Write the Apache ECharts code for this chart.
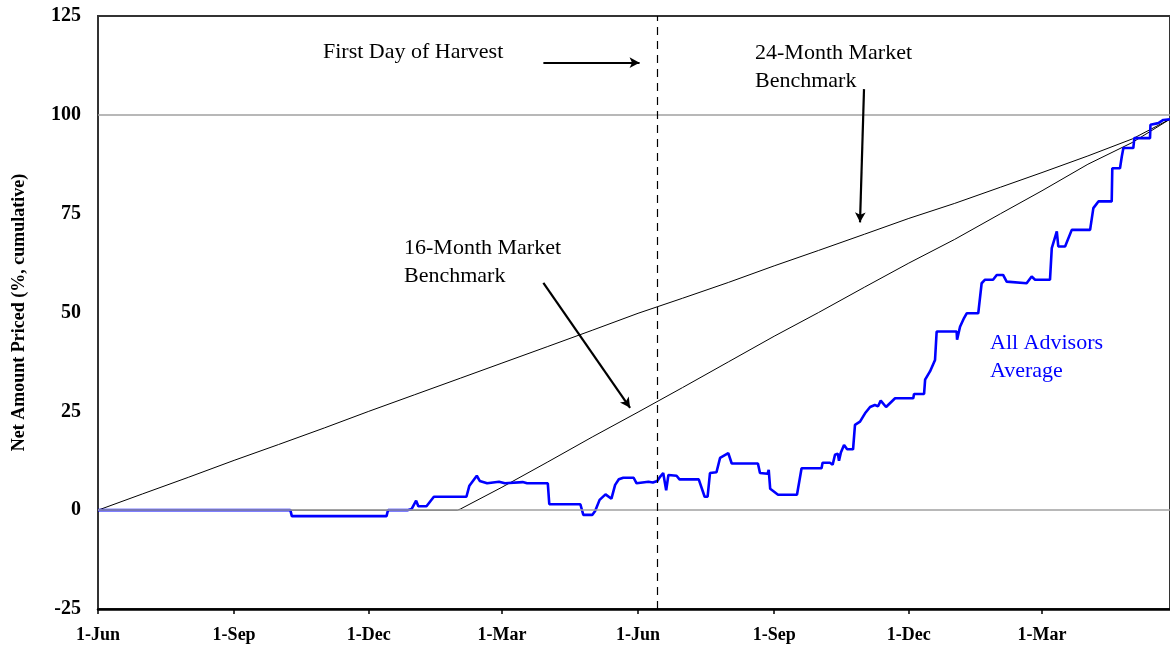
<!DOCTYPE html>
<html>
<head>
<meta charset="utf-8">
<script src="https://cdn.jsdelivr.net/npm/echarts@6/dist/echarts.min.js"></script>
<style>
html,body{margin:0;padding:0;background:#fff;}
#chart{width:1170px;height:647px;}
</style>
</head>
<body>
<div id="chart"></div>
<script>
// X axis: days elapsed since 1-Jun of the first year
const tickDays = [0, 92, 183, 273, 365, 457, 548, 638];
const tickLabels = ['1-Jun', '1-Sep', '1-Dec', '1-Mar', '1-Jun', '1-Sep', '1-Dec', '1-Mar'];
const yTicks = [-25, 0, 25, 50, 75, 100, 125];

// 24-Month Market Benchmark
const bench24Days = [0, 30, 61, 92, 122, 153, 183, 214, 245, 273, 304, 334, 365, 395, 426, 457, 487, 518, 548, 579, 610, 638, 669, 699, 724.5];
const bench24 = [0, 4.1, 8.3, 12.6, 16.6, 20.8, 25.0, 29.2, 33.4, 37.2, 41.4, 45.5, 49.8, 53.6, 57.6, 61.8, 65.7, 69.8, 73.8, 77.6, 81.7, 85.4, 89.6, 93.9, 98.9];

// 16-Month Market Benchmark
const bench16Days = [0, 243, 245, 273, 304, 334, 365, 395, 426, 457, 487, 518, 548, 579, 610, 638, 669, 699, 724.5];
const bench16 = [0, 0, 0.3, 5.8, 12.2, 18.5, 24.8, 31.0, 37.5, 44.0, 50.0, 56.4, 62.5, 68.5, 75.0, 80.8, 87.5, 93.0, 98.9];

// All Advisors Average
const advDays = [0, 130, 131, 195, 196, 209, 212, 215, 216.5, 222, 227, 249, 251, 256, 258, 263, 271, 275, 287, 290, 304, 305, 326, 328, 334, 336, 339, 343, 347, 349.5, 352, 355, 362, 364, 368, 372, 375, 378, 380, 382, 384, 385.5, 391, 393, 406, 410, 412, 413.6, 418, 420.4, 426, 428.3, 446, 447.4, 452.5, 453.3, 454.3, 459.6, 472.4, 475.5, 489, 489.7, 494.7, 496.5, 498.1, 500, 500.8, 502, 504.2, 506.3, 510.3, 511.6, 515, 518.4, 521.8, 525, 527.2, 529, 532.6, 538.7, 551, 551.5, 558.3, 559, 562.3, 565.7, 566.8, 580.3, 580.6, 582.6, 585.3, 587.1, 594.9, 597.2, 599.5, 604.9, 607.4, 611.7, 614.1, 627.6, 631, 633.3, 643.4, 644.6, 648, 649, 653.6, 658.1, 670.5, 672.7, 676.1, 685.1, 685.5, 690.7, 691.9, 693, 699.7, 700.4, 711, 711.3, 716.6, 720, 724.5];
const advValues = [0, 0, -1.5, -1.5, 0, 0, 0.3, 2.4, 1.0, 1.0, 3.4, 3.4, 6.2, 8.7, 7.4, 6.8, 7.2, 6.8, 7.1, 6.8, 6.8, 1.5, 1.5, -1.2, -1.2, -0.2, 2.6, 4.0, 2.9, 6.4, 7.8, 8.2, 8.2, 6.8, 7.0, 7.2, 7.0, 7.4, 8.5, 9.4, 5.0, 8.9, 8.7, 7.8, 7.8, 3.4, 3.4, 9.4, 9.6, 13.2, 14.4, 11.8, 11.8, 9.4, 9.2, 10.2, 5.4, 3.9, 3.9, 10.6, 10.6, 12.0, 12.0, 11.5, 14.0, 14.3, 12.5, 14.5, 16.5, 15.4, 15.4, 21.6, 22.4, 24.5, 26.1, 26.6, 26.3, 27.7, 26.1, 28.3, 28.3, 29.4, 29.4, 33.0, 35.1, 38.0, 45.2, 45.2, 43.1, 46.4, 48.6, 49.8, 49.8, 57.4, 58.3, 58.3, 59.5, 59.5, 57.8, 57.4, 59.1, 58.3, 58.3, 66.3, 70.5, 66.7, 66.7, 70.9, 70.9, 76.4, 78.1, 78.1, 86.5, 86.5, 89.4, 91.6, 91.6, 94.1, 94.1, 97.5, 97.9, 98.7, 98.9];

// Annotation anchors (in data units: day, value)
const harvestDay = 378;
const arrows = [
  [[301, 113.2], [366, 113.2]],   // First Day of Harvest
  [[517.7, 106.5], [515, 72.8]],  // 24-Month Market Benchmark
  [[301, 57.5], [359.6, 25.9]]    // 16-Month Market Benchmark
];
const xMax = 724.5;

const zip = (a, b) => a.map((d, i) => [d, b[i]]);
const serif = '"Liberation Serif", "Times New Roman", serif';

const chart = echarts.init(document.getElementById('chart'));
chart.setOption({
  animation: false,
  backgroundColor: '#fff',
  grid: {
    left: 98, right: 0, top: 16, bottom: 38,
    containLabel: false, outerBoundsMode: 'none',
    show: true, borderColor: '#333', borderWidth: 2, backgroundColor: 'transparent'
  },
  xAxis: {
    type: 'value', min: 0, max: xMax,
    axisLine: { show: true, onZero: false, lineStyle: { color: '#000', width: 2.5 } },
    axisTick: { show: true, customValues: tickDays, length: 5, lineStyle: { color: '#000', width: 1.5 } },
    axisLabel: {
      customValues: tickDays,
      formatter: v => tickLabels[tickDays.indexOf(v)] || '',
      fontFamily: serif, fontWeight: 'bold', fontSize: 18, color: '#000', margin: 17
    },
    splitLine: { show: false }
  },
  yAxis: {
    type: 'value', min: -25, max: 125, interval: 25,
    name: 'Net Amount Priced (%, cumulative)',
    nameLocation: 'middle', nameGap: 70,
    nameTextStyle: { fontFamily: serif, fontWeight: 'bold', fontSize: 18, color: '#000' },
    axisLine: { show: true, lineStyle: { color: '#333', width: 2 } },
    axisTick: { show: false },
    axisLabel: {
      customValues: yTicks,
      fontFamily: serif, fontWeight: 'bold', fontSize: 20, color: '#000', margin: 17
    },
    splitLine: { show: false }
  },
  series: [
    {
      type: 'line', name: 'guides', data: [], silent: true,
      markLine: {
        silent: true, symbol: ['none', 'none'], label: { show: false },
        lineStyle: { color: '#a0a0a0', width: 1.5, type: 'solid' },
        data: [ { yAxis: 0 }, { yAxis: 100 } ]
      }
    },
    {
      type: 'line', name: '24-Month Market Benchmark', data: zip(bench24Days, bench24),
      showSymbol: false, lineStyle: { color: '#000', width: 1 }, silent: true
    },
    {
      type: 'line', name: '16-Month Market Benchmark', data: zip(bench16Days, bench16),
      showSymbol: false, lineStyle: { color: '#000', width: 1 }, silent: true
    },
    {
      type: 'line', name: 'All Advisors Average', data: zip(advDays, advValues),
      showSymbol: false, lineStyle: { color: '#0000ff', width: 2.6 }, silent: true
    },
    {
      type: 'line', name: 'harvest', data: [], silent: true,
      markLine: {
        silent: true, symbol: ['none', 'none'], label: { show: false },
        lineStyle: { color: '#000', width: 1.2, type: [8, 6] },
        data: [ { xAxis: harvestDay } ]
      }
    },
    {
      type: 'line', name: 'arrows', data: [], silent: true,
      markLine: {
        silent: true, symbol: ['none', 'arrow'], symbolSize: [8, 10], label: { show: false },
        lineStyle: { color: '#000', width: 2.2, type: 'solid' },
        data: arrows.map(a => [ { coord: a[0] }, { coord: a[1] } ])
      }
    }
  ],
  graphic: [
    { type: 'text', left: 323, top: 41, silent: true, style: { text: 'First Day of Harvest', font: '22px ' + serif, fill: '#000' } },
    { type: 'text', left: 755, top: 39, silent: true, style: { text: '24-Month Market\nBenchmark', font: '22px ' + serif, fill: '#000', lineHeight: 28 } },
    { type: 'text', left: 404, top: 234, silent: true, style: { text: '16-Month Market\nBenchmark', font: '22px ' + serif, fill: '#000', lineHeight: 28 } },
    { type: 'text', left: 990, top: 329, silent: true, style: { text: 'All Advisors\nAverage', font: '22px ' + serif, fill: '#0000ff', lineHeight: 28 } }
  ]
});
</script>
</body>
</html>
